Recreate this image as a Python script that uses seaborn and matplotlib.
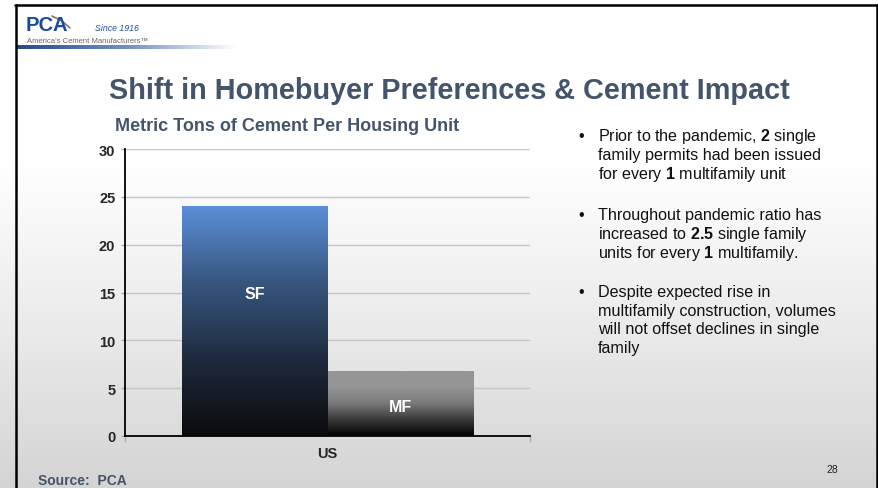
import numpy as np
import pandas as pd
import matplotlib
matplotlib.use('Agg')
import matplotlib.pyplot as plt
from matplotlib.colors import LinearSegmentedColormap
from matplotlib.lines import Line2D
import seaborn as sns

# 数据
regions = ['US']
unit_types = ['SF', 'MF']
tons_per_unit = [24, 6.8]
y_ticks = [0, 5, 10, 15, 20, 25, 30]

title = 'Shift in Homebuyer Preferences & Cement Impact'
subtitle = 'Metric Tons of Cement Per Housing Unit'
bullets = [
    [r'Prior to the pandemic, $\mathbf{2}$ single',
     'family permits had been issued',
     r'for every $\mathbf{1}$ multifamily unit'],
    ['Throughout pandemic ratio has',
     r'increased to $\mathbf{2.5}$ single family',
     r'units for every $\mathbf{1}$ multifamily.'],
    ['Despite expected rise in',
     'multifamily construction, volumes',
     'will not offset declines in single',
     'family'],
]

sns.set_theme(style='white')
plt.rcParams['font.family'] = ['Liberation Sans', 'DejaVu Sans']
plt.rcParams['mathtext.fontset'] = 'custom'
plt.rcParams['mathtext.rm'] = 'Liberation Sans'
plt.rcParams['mathtext.bf'] = 'Liberation Sans:bold'

W, H = 879, 489
slate = '#44546a'

fig = plt.figure(figsize=(W / 100, H / 100), dpi=100)

# 幻灯片背景渐变
bg = fig.add_axes([0, 0, 1, 1])
bg.set_zorder(-1)
bg_cmap = LinearSegmentedColormap.from_list('bg', ['#d4d4d4', '#ebebeb', '#ffffff', '#ffffff'])
bg.imshow(np.linspace(0, 1, 256).reshape(-1, 1), cmap=bg_cmap, origin='lower',
          aspect='auto', extent=[0, 1, 0, 1])
bg.set_xlim(0, 1)
bg.set_ylim(0, 1)
bg.axis('off')


def px(x, y):
    return x / W, 1 - y / H


# 边框
for xs, ys in [([15, 878], [6, 6]), ([16, 16], [6, 489]), ([877, 877], [6, 489])]:
    fig.add_artist(Line2D([x / W for x in xs], [1 - y / H for y in ys], color='black', lw=1.8))

# logo
fig.text(*px(26, 31), 'PCA', fontsize=14.5, fontweight='bold', color='#1a4a9a', va='baseline')
fig.add_artist(Line2D([x / W for x in [52, 62, 70]], [1 - y / H for y in [17, 22, 29]],
                      color='#8a7a60', lw=1.2))
fig.text(*px(95, 31), 'Since 1916', fontsize=6.3, fontstyle='italic',
         color='#1f4e9c', va='baseline')
fig.text(*px(27, 43), 'America\u2019s Cement Manufacturers\u2122', fontsize=5.5, color='#666666',
         va='baseline')
bar_ax = fig.add_axes([17 / W, 1 - 50 / H, 220 / W, 4 / H])
bar_cmap = LinearSegmentedColormap.from_list('logo', ['#26498f', '#7390c2', '#ffffff'])
bar_ax.imshow(np.linspace(0, 1, 256).reshape(1, -1), cmap=bar_cmap, aspect='auto')
bar_ax.axis('off')

# 标题
fig.text(*px(449, 99), title, fontsize=20.8, fontweight='bold', color=slate,
         ha='center', va='baseline')
fig.text(*px(115, 131), subtitle, fontsize=13, fontweight='bold', color=slate, va='baseline')

# 柱状图
df = pd.DataFrame({'region': regions * len(unit_types), 'type': unit_types, 'tons': tons_per_unit})
ax = fig.add_axes([125 / W, 52 / H, 405 / W, 287 / H])
ax.set_zorder(1)
ax.set_facecolor('none')
sns.barplot(data=df, x='region', y='tons', hue='type', hue_order=unit_types,
            width=0.72, dodge=True, legend=False, ax=ax)

ax.set_ylim(0, 30)
ax.set_xlim(-0.5, 0.5)

cmaps = [
    LinearSegmentedColormap.from_list('sf', ['#0b0b0d', '#1e2a3d', '#37567f', '#5a8fd8']),
    LinearSegmentedColormap.from_list('mf', ['#000000', '#3a3a3a', '#7a7a7a', '#959595', '#959595']),
]
grad = np.linspace(0, 1, 256).reshape(-1, 1)
for patch, cmap, label in zip(ax.patches, cmaps, unit_types):
    x0, y0 = patch.get_x(), patch.get_y()
    w, h = patch.get_width(), patch.get_height()
    im = ax.imshow(grad, extent=[x0, x0 + w, y0, y0 + h], origin='lower',
                   aspect='auto', cmap=cmap, zorder=2)
    im.set_clip_path(patch)
    patch.set_facecolor('none')
    patch.set_edgecolor('none')
    ly = h * 0.62 if label == 'SF' else h * 0.46
    ax.text(x0 + w / 2, ly, label, color='white', fontsize=11.5, fontweight='bold',
            ha='center', va='center', zorder=3)

ax.set_ylim(0, 30)
ax.set_xlim(-0.5, 0.5)
ax.set_yticks(y_ticks)
ax.set_yticklabels([str(t) for t in y_ticks], fontsize=10.5, fontweight='bold')
ax.set_xticks([0])
ax.set_xticklabels(regions, fontsize=10.5, fontweight='bold')
ax.set_xticks([-0.5, 0.5], minor=True)
ax.tick_params(axis='x', which='major', length=0, pad=7)
ax.tick_params(axis='x', which='minor', length=4, color='#aaaaaa', width=1, bottom=True)
ax.tick_params(axis='y', length=3, color='#aaaaaa', width=1, pad=4, left=True)
ax.grid(axis='y', color='#c6c6c6', lw=1)
ax.set_axisbelow(True)
for s in ['top', 'right']:
    ax.spines[s].set_visible(False)
for s in ['left', 'bottom']:
    ax.spines[s].set_color('black')
    ax.spines[s].set_linewidth(1.3)
    ax.spines[s].set_zorder(4)
ax.set_xlabel('')
ax.set_ylabel('')

# 右侧要点
line_y = [[141, 160, 179], [220, 239, 258], [297, 316, 334, 353]]
for block, ys in zip(bullets, line_y):
    fig.text(*px(578, ys[0]), '\u2022', fontsize=11.6, color='#111111', va='baseline')
    for line, y in zip(block, ys):
        fig.text(*px(598, y), line, fontsize=11.6, color='#111111', va='baseline')

fig.text(*px(38, 485), 'Source:  PCA', fontsize=10, fontweight='bold', color=slate, va='baseline')
fig.text(*px(832, 473), '28', fontsize=7.5, color='#222222', ha='center', va='baseline')

fig.savefig('out.png', dpi=100)
